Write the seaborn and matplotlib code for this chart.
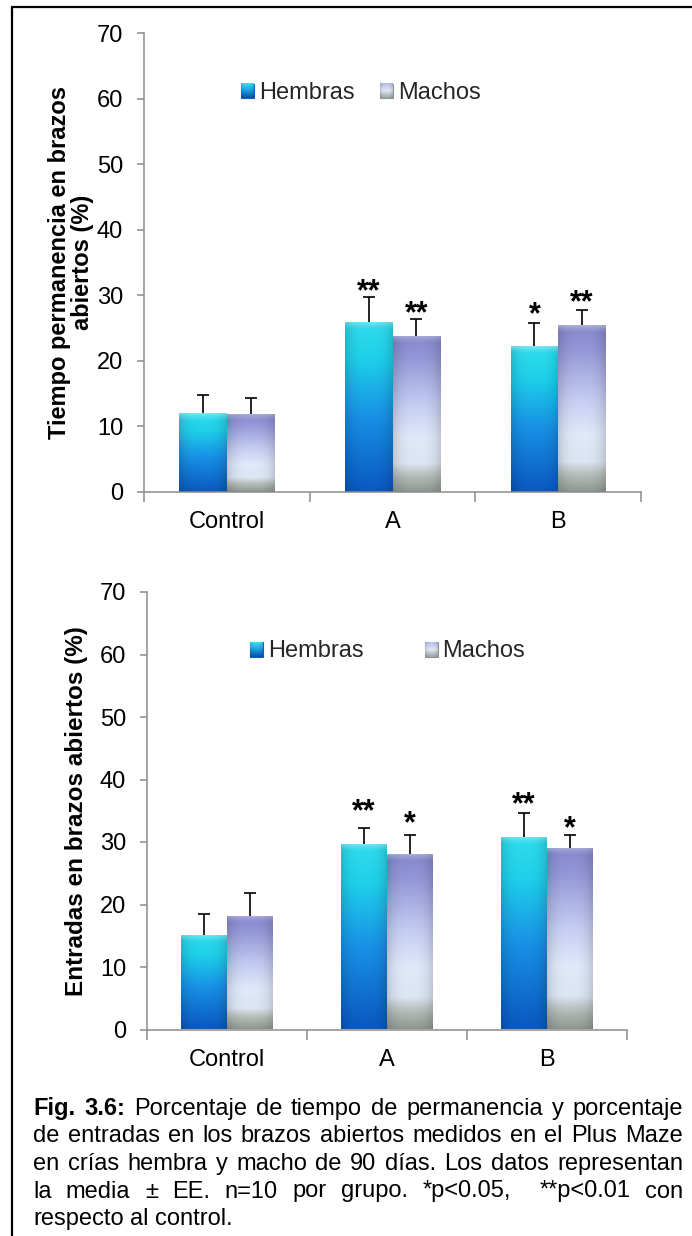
import numpy as np
import pandas as pd
import matplotlib
matplotlib.use("Agg")
import matplotlib.pyplot as plt
import matplotlib.colors as mcolors
from matplotlib.lines import Line2D
from matplotlib.patches import Patch
from matplotlib.container import BarContainer
import seaborn as sns

# ---------------- data ----------------
grupos = ["Control", "A", "B"]
sexos = ["Hembras", "Machos"]

tiempo_hembras = [12.0, 26.0, 22.2]
tiempo_machos = [11.9, 23.8, 25.4]
tiempo_ee_hembras = [2.8, 3.7, 3.5]
tiempo_ee_machos = [2.5, 2.6, 2.3]
tiempo_sig_hembras = ["", "**", "*"]
tiempo_sig_machos = ["", "**", "**"]
tiempo_sig_y_hembras = [0, 31.8, 28.3]
tiempo_sig_y_machos = [0, 28.4, 30.1]

entradas_hembras = [15.1, 29.7, 30.8]
entradas_machos = [18.2, 28.1, 29.0]
entradas_ee_hembras = [3.4, 2.6, 3.8]
entradas_ee_machos = [3.6, 3.0, 2.2]
entradas_sig_hembras = ["", "**", "**"]
entradas_sig_machos = ["", "*", "*"]
entradas_sig_y_hembras = [0, 36.1, 37.3]
entradas_sig_y_machos = [0, 34.2, 33.4]

yticks = [0, 10, 20, 30, 40, 50, 60, 70]
ylabel_top = "Tiempo permanencia en brazos\nabiertos (%)"
ylabel_bottom = "Entradas en brazos abiertos (%)"

caption_lines = [
    "Fig. 3.6: Porcentaje de tiempo de permanencia y porcentaje",
    "de entradas en los brazos abiertos medidos en el Plus Maze",
    "en crías hembra y macho de 90 días. Los datos representan",
    "la media ± EE. n=10 por grupo. *p<0.05,  **p<0.01 con",
    "respecto al control.",
]
caption_bold_words = 2  # "Fig." and "3.6:"

# ---------------- style ----------------
sns.set_theme(style="white")
plt.rcParams["font.family"] = ["Liberation Sans", "DejaVu Sans"]

W, H = 692, 1236
fig = plt.figure(figsize=(W / 100, H / 100), dpi=100)
fig.patch.set_facecolor("white")

def fx(px):
    return px / W

def fy(py):
    return 1 - py / H

HEMBRAS_STOPS = [(0.0, "#30dcec"), (0.22, "#1ed0ea"), (0.55, "#1892e6"), (1.0, "#0a58c0")]
MACHOS_STOPS = [(0.0, "#8486cc"), (0.15, "#9598d8"), (0.45, "#c6cef2"), (0.65, "#e0e8fa"),
                (0.82, "#dde5f3"), (0.9, "#b5bdb9"), (1.0, "#8f9890")]
LEG_H_STOPS = [(0.0, "#38e0ee"), (0.45, "#1aa8e8"), (1.0, "#0a4fb0")]
LEG_M_STOPS = [(0.0, "#b8bce6"), (0.5, "#e2e8f8"), (1.0, "#9aa2a4")]

def gradient_img(stops, bar_px_h, n=200, m=40, bevel=True):
    cmap = mcolors.LinearSegmentedColormap.from_list("g", stops)
    t = np.linspace(0, 1, n)
    col = cmap(t)[:, :3]  # top -> bottom
    img = np.repeat(col[:, None, :], m, axis=1)
    u = np.linspace(0, 1, m)
    shade = 1 - 0.14 * np.abs(2 * u - 1) ** 3
    img = img * shade[None, :, None]
    if bevel:
        bev = min(0.5, 8.0 / max(bar_px_h, 1))
        hl = np.clip(1 - t / bev, 0, 1) ** 1.5 * 0.35
        img = img * (1 - hl[:, None, None]) + hl[:, None, None]
    return np.clip(img, 0, 1)

FS = 17
axes_list = []

def panel(ax_rect, hem, mac, ee_h, ee_m, sig_h, sig_m, sigy_h, sigy_m, ylabel,
          label_x, label_fs, leg_xy, colspace):
    ax = fig.add_axes(ax_rect)
    df = pd.DataFrame({
        "grupo": grupos * 2,
        "sexo": [sexos[0]] * 3 + [sexos[1]] * 3,
        "valor": hem + mac,
    })
    sns.barplot(data=df, x="grupo", y="valor", hue="sexo", order=grupos,
                hue_order=sexos, errorbar=None, width=0.575, gap=0,
                palette=["#1897e6", "#c9d1f2"], legend=False, ax=ax, zorder=2)
    ax.set_ylim(0, 70)
    ax.set_xlim(-0.5, 2.5)
    ax_h_px = ax_rect[3] * H
    px_per_unit = ax_h_px / 70.0
    stops_list = [HEMBRAS_STOPS, MACHOS_STOPS]
    errs = [ee_h, ee_m]
    sigs = [sig_h, sig_m]
    sigys = [sigy_h, sigy_m]
    bar_conts = [c for c in ax.containers if isinstance(c, BarContainer)]
    for k, cont in enumerate(bar_conts):
        xs, ys = [], []
        for j, p in enumerate(cont.patches):
            x0 = p.get_x(); w = p.get_width(); h = p.get_height()
            img = gradient_img(stops_list[k], h * px_per_unit)
            im = ax.imshow(img, extent=[x0, x0 + w, 0, h], aspect="auto",
                           interpolation="bilinear", zorder=2.1)
            im.set_clip_path(p)
            p.set_facecolor("none")
            p.set_edgecolor("none")
            xs.append(x0 + w / 2)
            ys.append(h)
        eb = ax.errorbar(xs, ys, yerr=[np.zeros(len(ys)), errs[k]], fmt="none",
                         ecolor="black", elinewidth=1.2, capsize=4.6, capthick=1.2,
                         zorder=3)
        for cl in eb[1]:
            if np.allclose(np.asarray(cl.get_ydata(), float), np.asarray(ys, float)):
                cl.set_visible(False)
        for j, s in enumerate(sigs[k]):
            if s:
                ax.annotate(s, xy=(xs[j], sigys[k][j]), xytext=(0, -12),
                            textcoords="offset points", ha="center",
                            va="baseline", fontsize=22, fontweight="bold",
                            color="black", zorder=4)
    ax.set_xlim(-0.5, 2.5)
    ax.set_ylim(0, 70)
    ax.set_yticks(yticks)
    ax.set_xticks([0, 1, 2])
    ax.set_xticklabels(grupos)
    ax.set_xticks([-0.5, 0.5, 1.5, 2.5], minor=True)
    ax.tick_params(axis="x", which="major", length=0, pad=14, labelsize=FS,
                   labelcolor="black")
    ax.tick_params(axis="x", which="minor", length=7, width=1.1, color="#8c8c8c",
                   direction="out", bottom=True)
    ax.tick_params(axis="y", which="major", length=5, width=1.1, color="#8c8c8c",
                   direction="out", left=True, pad=10, labelsize=FS,
                   labelcolor="black")
    for s in ["top", "right"]:
        ax.spines[s].set_visible(False)
    for s in ["left", "bottom"]:
        ax.spines[s].set_color("#8c8c8c")
        ax.spines[s].set_linewidth(1.1)
    ax.set_xlabel("")
    ax.set_ylabel(ylabel, fontsize=label_fs, fontweight="bold", color="black",
                  linespacing=1.0)
    ax.yaxis.set_label_coords(label_x, 0.5)
    ax.grid(False)
    handles = [Patch(facecolor="#1a9ee6", edgecolor="#0b5fc4", linewidth=0.8),
               Patch(facecolor="#c3c8ec", edgecolor="#8f9890", linewidth=0.8)]
    leg = ax.legend(handles, sexos, ncol=2, frameon=False, fontsize=FS,
                    loc="center left", bbox_to_anchor=leg_xy, borderpad=0,
                    borderaxespad=0, handlelength=0.55, handleheight=0.6,
                    handletextpad=0.2, columnspacing=colspace)
    axes_list.append((ax, leg))
    return ax

# top panel
top_rect = [fx(144), fy(492), fx(641) - fx(144), (492 - 33) / H]
panel(top_rect, tiempo_hembras, tiempo_machos, tiempo_ee_hembras, tiempo_ee_machos,
      tiempo_sig_hembras, tiempo_sig_machos, tiempo_sig_y_hembras, tiempo_sig_y_machos,
      ylabel_top, (94 - 144) / 497, 17, ((241 - 144) / 497, 60.8 / 70), 1.1)

# bottom panel
bot_rect = [fx(147), fy(1029.5), fx(627) - fx(147), (1029.5 - 592) / H]
panel(bot_rect, entradas_hembras, entradas_machos, entradas_ee_hembras, entradas_ee_machos,
      entradas_sig_hembras, entradas_sig_machos, entradas_sig_y_hembras, entradas_sig_y_machos,
      ylabel_bottom, (88 - 147) / 480, 17.5, ((250 - 147) / 480, 60.5 / 70), 2.6)

# gradient legend swatches drawn over the legend handles
fig.canvas.draw()
renderer = fig.canvas.get_renderer()
for ax, leg in axes_list:
    for patch, stops in zip(leg.get_patches(), [LEG_H_STOPS, LEG_M_STOPS]):
        bb = patch.get_window_extent(renderer)
        inv = ax.transData.inverted()
        (x0, y0), (x1, y1) = inv.transform([[bb.x0, bb.y0], [bb.x1, bb.y1]])
        img = gradient_img(stops, 14, n=50, m=20, bevel=False)
        ax.imshow(img, extent=[x0, x1, y0, y1], aspect="auto",
                  interpolation="bilinear", zorder=6, clip_on=False)
    ax.set_xlim(-0.5, 2.5)
    ax.set_ylim(0, 70)

# border lines
fig.add_artist(Line2D([fx(12), 1.0], [fy(7), fy(7)], color="black", lw=1.6,
                      transform=fig.transFigure))
fig.add_artist(Line2D([fx(12), fx(12)], [fy(7), 0.0], color="black", lw=1.6,
                      transform=fig.transFigure))

# justified caption
cap_fs = 17

def text_w(s, bold):
    if s == "":
        return 0.0
    t = fig.text(0, 0, s, fontsize=cap_fs, fontweight="bold" if bold else "normal")
    w = t.get_window_extent(renderer).width
    t.remove()
    return w

cap_left, cap_right = 33, 683
baselines = [1115, 1142.5, 1170, 1197.5, 1225]
space_w = text_w("a a", False) - 2 * text_w("a", False)
widx = 0
for li, line in enumerate(caption_lines):
    words = line.split(" ")
    flags = []
    for w in words:
        flags.append(widx < caption_bold_words)
        if w != "":
            widx += 1
    widths = [text_w(w, b) for w, b in zip(words, flags)]
    last = li == len(caption_lines) - 1
    if last or len(words) == 1:
        gap = space_w
    else:
        gap = (cap_right - cap_left - sum(widths)) / (len(words) - 1)
    x = cap_left
    for w, b, ww in zip(words, flags, widths):
        if w:
            fig.text(fx(x), fy(baselines[li]), w, fontsize=cap_fs,
                     fontweight="bold" if b else "normal", ha="left",
                     va="baseline", color="black")
        x += ww + gap

fig.savefig("out.png", dpi=100)
